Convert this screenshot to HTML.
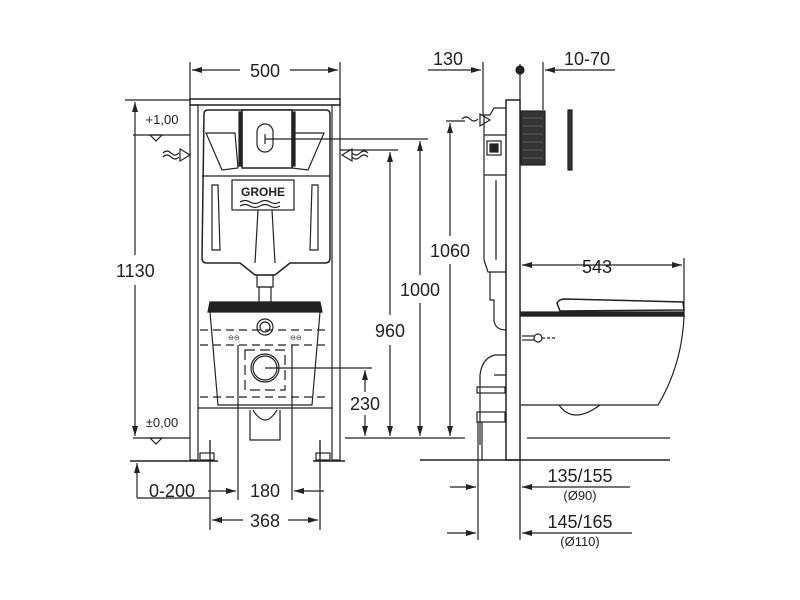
<!DOCTYPE html>
<html><head><style>
html,body{margin:0;padding:0;background:#fff}
svg{display:block}
text{font-family:"Liberation Sans",sans-serif;fill:#222}
</style></head><body>
<svg width="800" height="600" viewBox="0 0 800 600" xmlns="http://www.w3.org/2000/svg">
<defs>
<marker id="a" viewBox="0 0 10 6" refX="10" refY="3" markerWidth="10" markerHeight="6" orient="auto-start-reverse" markerUnits="userSpaceOnUse"><path d="M0,0L10,3L0,6z" fill="#222"/></marker>
</defs>
<g stroke="#222" fill="none" stroke-width="1.2">
<line x1="190" y1="62" x2="190" y2="100"/><line x1="340" y1="62" x2="340" y2="100"/>
<line x1="192" y1="70" x2="240" y2="70" marker-start="url(#a)"/><line x1="290" y1="70" x2="338" y2="70" marker-end="url(#a)"/>
<rect x="190" y="99" width="150" height="6" stroke-width="1.5"/>
<rect x="190" y="105" width="8" height="355"/><rect x="332" y="105" width="8" height="355"/>
<line x1="210" y1="440" x2="210" y2="460"/><line x1="320" y1="440" x2="320" y2="460"/>
<rect x="200" y="453" width="14" height="7"/><rect x="316" y="453" width="14" height="7"/>
<path d="M204,114 Q204,110 208,110 L326,110 Q330,110 330,114 L330,258 Q330,263 325,263 L290,263 L275,275 L255,275 L240,263 L207,263 Q202,263 202,258Z" stroke-width="1.5"/>
<line x1="202" y1="176" x2="330" y2="176"/>
<path d="M206,133 L235,133 L238,168 L222,170Z M324,133 L295,133 L292,168 L308,170Z"/>
<rect x="242" y="110" width="50" height="58" fill="#fff" stroke-width="1.5"/>
<rect x="239" y="112" width="3" height="54" fill="#222"/><rect x="292" y="112" width="3" height="54" fill="#222"/>
<rect x="257" y="124" width="16" height="28" rx="8"/>
<line x1="265" y1="134" x2="265" y2="144"/>
<rect x="232" y="180" width="62" height="30" fill="#fff"/>
<path d="M240,202 q5,-3 10,0 t10,0 t10,0 t10,0 M240,206 q5,-3 10,0 t10,0 t10,0 t10,0"/>
<path d="M212,185 L218,185 L220,250 L212,250Z M318,185 L312,185 L310,250 L318,250Z"/>
<line x1="258" y1="210" x2="255" y2="263"/><line x1="272" y1="210" x2="275" y2="263"/>
<rect x="257" y="275" width="16" height="12"/><rect x="259" y="287" width="12" height="15"/>
<path d="M210,302 L320,302 L322,312 L208,312Z" fill="#222"/>
<path d="M210,312 L218,405 L312,405 L320,312"/>
<line x1="200" y1="330" x2="330" y2="330" stroke-dasharray="8,5"/>
<line x1="200" y1="345" x2="330" y2="345" stroke-dasharray="8,5"/>
<line x1="200" y1="397" x2="330" y2="397" stroke-dasharray="8,5"/>
<line x1="198" y1="408" x2="332" y2="408"/>
<circle cx="265" cy="327" r="8"/><circle cx="265" cy="327" r="5"/>
<circle cx="265" cy="368" r="14"/><circle cx="265" cy="368" r="12"/>
<rect x="245" y="350" width="40" height="40" stroke-dasharray="10,5"/>
<path d="M250,410 L250,440 L280,440 L280,410 M253,410 Q265,430 277,410"/>
<text x="228" y="340" font-size="7" stroke="none">⊖⊖</text><text x="290" y="340" font-size="7" stroke="none">⊖⊖</text>
<line x1="265" y1="368" x2="372" y2="368"/><line x1="265" y1="139" x2="428" y2="139"/>
<path d="M163,153 q4,-4 8,0 t8,0 M163,157 q4,-4 8,0 t8,0"/><path d="M180,149 L190,155 L180,161Z"/>
<path d="M368,153 q-4,-4 -8,0 t-8,0 M368,157 q-4,-4 -8,0 t-8,0"/><path d="M352,149 L342,155 L352,161Z"/>
<line x1="340" y1="150" x2="398" y2="150"/>
<line x1="133" y1="135" x2="190" y2="135"/><path d="M150,135 L162,135 L156,141Z"/>
<line x1="133" y1="438" x2="190" y2="438"/><path d="M150,438 L162,438 L156,444Z"/>
<line x1="125" y1="100" x2="190" y2="100"/>
<line x1="135" y1="102" x2="135" y2="255" marker-start="url(#a)"/><line x1="135" y1="285" x2="135" y2="436" marker-end="url(#a)"/>
<line x1="345" y1="438" x2="465" y2="438"/>
<line x1="365" y1="370" x2="365" y2="392" marker-start="url(#a)"/><line x1="365" y1="415" x2="365" y2="436" marker-end="url(#a)"/>
<line x1="390" y1="152" x2="390" y2="315" marker-start="url(#a)"/><line x1="390" y1="345" x2="390" y2="436" marker-end="url(#a)"/>
<line x1="420" y1="141" x2="420" y2="275" marker-start="url(#a)"/><line x1="420" y1="303" x2="420" y2="436" marker-end="url(#a)"/>
<line x1="450" y1="123" x2="450" y2="236" marker-start="url(#a)"/><line x1="450" y1="264" x2="450" y2="436" marker-end="url(#a)"/>
<line x1="446" y1="121" x2="465" y2="121"/>
<line x1="130" y1="461" x2="218" y2="461" stroke-width="1.5"/><line x1="313" y1="461" x2="345" y2="461" stroke-width="1.5"/>
<line x1="137" y1="498" x2="137" y2="463" marker-end="url(#a)"/><line x1="137" y1="498" x2="210" y2="498"/>
<line x1="210" y1="440" x2="210" y2="530"/><line x1="238" y1="345" x2="238" y2="500"/>
<line x1="292" y1="345" x2="292" y2="500"/><line x1="320" y1="440" x2="320" y2="530"/>
<line x1="208" y1="491" x2="236" y2="491" marker-end="url(#a)"/><line x1="324" y1="491" x2="294" y2="491" marker-end="url(#a)"/>
<line x1="212" y1="520" x2="243" y2="520" marker-start="url(#a)"/><line x1="288" y1="520" x2="318" y2="520" marker-end="url(#a)"/>
<line x1="428" y1="70" x2="481" y2="70" marker-end="url(#a)"/><line x1="483" y1="62" x2="483" y2="115"/>
<line x1="520" y1="64" x2="520" y2="100"/><circle cx="520" cy="70" r="4" fill="#222"/>
<line x1="543" y1="62" x2="543" y2="110"/><line x1="615" y1="70" x2="545" y2="70" marker-end="url(#a)"/>
<rect x="506" y="100" width="14" height="360" stroke-width="1.5"/>
<rect x="521" y="111" width="24" height="54" fill="#333"/>
<g stroke="#888" stroke-width="0.6"><line x1="523" y1="118" x2="543" y2="118"/><line x1="523" y1="126" x2="543" y2="126"/><line x1="523" y1="134" x2="543" y2="134"/><line x1="523" y1="142" x2="543" y2="142"/><line x1="523" y1="150" x2="543" y2="150"/><line x1="523" y1="158" x2="543" y2="158"/></g>
<rect x="568" y="110" width="4" height="60" fill="#333"/>
<path d="M506,108 L494,108 L490,115 L484,115 L484,260 L488,272 L506,272"/>
<line x1="484" y1="135" x2="506" y2="135"/>
<rect x="487" y="141" width="14" height="14"/><rect x="490" y="144" width="8" height="8" fill="#222"/>
<line x1="484" y1="175" x2="506" y2="175"/><line x1="496" y1="180" x2="496" y2="260"/>
<path d="M462,119 q4,-4 8,0 t8,0"/><path d="M480,114 L490,120 L480,126Z"/>
<path d="M490,272 L490,300 L494,300 L494,320 Q495,330 506,330"/>
<path d="M506,355 L495,355 Q482,358 480,375 L480,445 M506,375 L494,375"/>
<rect x="477" y="387" width="28" height="6"/><rect x="477" y="412" width="28" height="10"/>
<line x1="478" y1="422" x2="478" y2="540"/><line x1="482" y1="422" x2="482" y2="460"/>
<line x1="520" y1="460" x2="520" y2="540"/>
<line x1="522" y1="265" x2="682" y2="265" marker-end="url(#a)" marker-start="url(#a)"/>
<line x1="684" y1="258" x2="684" y2="318"/>
<path d="M557,303 Q559,299 565,299 L683,302 L684,310 L560,311 Z" stroke-width="1.5"/>
<rect x="521" y="312" width="163" height="4" fill="#222"/>
<path d="M521,316 L684,316 Q682,365 658,405 L521,405"/>
<path d="M559,405 Q573,425 600,405"/>
<circle cx="538" cy="338" r="4"/><line x1="522" y1="336" x2="534" y2="336"/><line x1="522" y1="340" x2="534" y2="340"/><line x1="542" y1="338" x2="556" y2="338" stroke-dasharray="3,2"/>
<line x1="527" y1="438" x2="670" y2="438"/>
<line x1="420" y1="460" x2="670" y2="460" stroke-width="1.5"/>
<line x1="450" y1="487" x2="476" y2="487" marker-end="url(#a)"/><line x1="630" y1="487" x2="522" y2="487" marker-end="url(#a)"/>
<line x1="447" y1="533" x2="476" y2="533" marker-end="url(#a)"/><line x1="632" y1="533" x2="522" y2="533" marker-end="url(#a)"/>
</g>
<g font-size="18" stroke="none">
<text x="265" y="77" text-anchor="middle">500</text>
<text x="448" y="65" text-anchor="middle">130</text>
<text x="587" y="65" text-anchor="middle">10-70</text>
<text x="116" y="277">1130</text>
<text x="390" y="337" text-anchor="middle">960</text>
<text x="420" y="296" text-anchor="middle">1000</text>
<text x="450" y="257" text-anchor="middle">1060</text>
<text x="365" y="410" text-anchor="middle">230</text>
<text x="597" y="273" text-anchor="middle">543</text>
<text x="172" y="497" text-anchor="middle">0-200</text>
<text x="265" y="497" text-anchor="middle">180</text>
<text x="265" y="527" text-anchor="middle">368</text>
<text x="580" y="482" text-anchor="middle">135/155</text>
<text x="580" y="528" text-anchor="middle">145/165</text>
</g>
<g font-size="13" stroke="none">
<text x="162" y="124" text-anchor="middle">+1,00</text>
<text x="162" y="427" text-anchor="middle">±0,00</text>
<text x="580" y="500" text-anchor="middle">(Ø90)</text>
<text x="580" y="546" text-anchor="middle">(Ø110)</text>
<text x="263" y="196" text-anchor="middle" font-weight="bold" font-size="12" font-family="Liberation Serif">GROHE</text>
</g>
</svg>
</body></html>
